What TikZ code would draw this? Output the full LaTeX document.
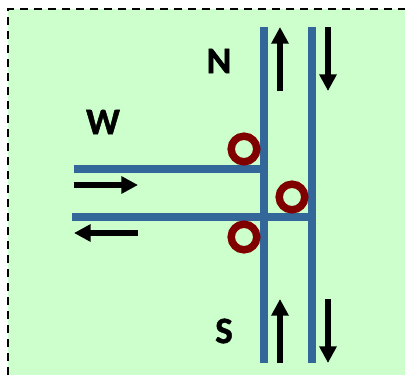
\documentclass[tikz,border=0pt]{standalone}
\usepackage{fontspec}
\setmainfont{Carlito}[BoldFeatures={FakeBold=1.2}]
\usetikzlibrary{arrows.meta}

\begin{document}
\begin{tikzpicture}[x=0.75pt,y=-0.75pt,>={Triangle[length=12.5pt,width=12.5pt]}]

    \definecolor{roadblue}{HTML}{336699}
    \definecolor{ringred}{HTML}{800000}
    \definecolor{areagreen}{HTML}{CCFFCC}

    \tikzstyle{road}=[draw=roadblue,line width=6.5pt]
    \tikzstyle{flow}=[->,black,line width=4pt]
    \tikzstyle{ring}=[circle,draw=ringred,line width=5.6pt,minimum size=19.2pt,inner sep=0pt]
    \tikzstyle{dir}=[font=\bfseries\fontsize{28}{28}\selectfont,text=black,inner sep=0pt]
    \tikzstyle{edge}=[black,line width=2pt,dash pattern=on 6pt off 4.5pt]

    \useasboundingbox (0,0) rectangle (405,375);
    \fill[areagreen] (8,9) rectangle (405,375);

    % frame corners
    \coordinate (c0) at (8,375);
    \coordinate (c1) at (8,9);
    \coordinate (c2) at (405,9);
    \draw[edge] (c0) -- (c1) -- (c2);

    % road ends
    \coordinate (n1) at (264,27);
    \coordinate (s1) at (264,363);
    \coordinate (n2) at (312,27);
    \coordinate (s2) at (312,363);
    \coordinate (w1) at (74,169);
    \coordinate (j1) at (264,169);
    \coordinate (w2) at (72,217);
    \coordinate (j2) at (312,217);

    \draw[road] (n1) -- (s1);
    \draw[road] (n2) -- (s2);
    \draw[road] (w1) -- (j1);
    \draw[road] (w2) -- (j2);

    % flow arrows
    \coordinate (a1) at (280,91);
    \coordinate (a2) at (280,27);
    \coordinate (b1) at (328,27);
    \coordinate (b2) at (328,91);
    \coordinate (d1) at (280,363);
    \coordinate (d2) at (280,299);
    \coordinate (e1) at (328,299);
    \coordinate (e2) at (328,363);
    \coordinate (f1) at (74,185);
    \coordinate (f2) at (138,185);
    \coordinate (g1) at (138,233);
    \coordinate (g2) at (74,233);

    \draw[flow] (a1) -- (a2);
    \draw[flow] (b1) -- (b2);
    \draw[flow] (d1) -- (d2);
    \draw[flow] (e1) -- (e2);
    \draw[flow] (f1) -- (f2);
    \draw[flow] (g1) -- (g2);

    \node[ring] (r1) at (244,149) {};
    \node[ring] (r2) at (292,197) {};
    \node[ring] (r3) at (244,237) {};

    \node[dir] (N) at (219,61)  {N};
    \node[dir] (W) at (103,122) {W};
    \node[dir] (S) at (224,331) {S};

\end{tikzpicture}
\end{document}
